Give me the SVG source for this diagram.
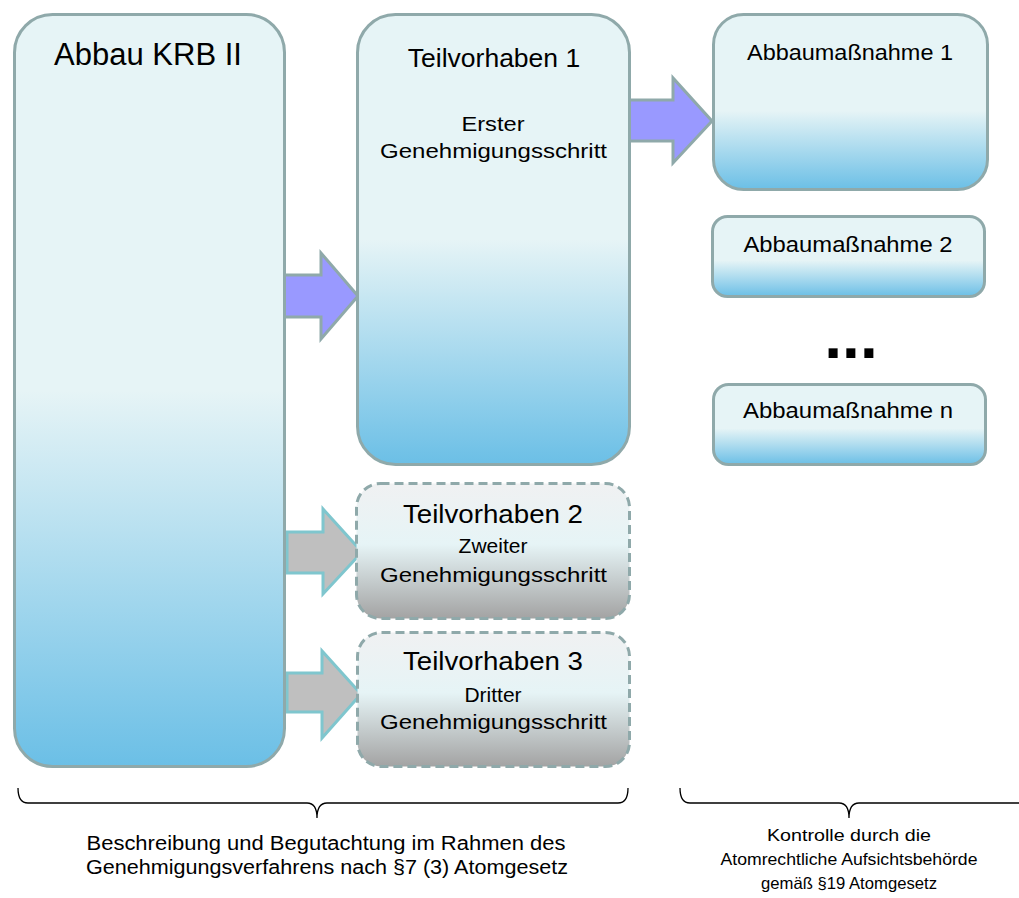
<svg xmlns="http://www.w3.org/2000/svg" width="1019" height="898" viewBox="0 0 1019 898">
<defs>
<linearGradient id="blue" x1="0" y1="0" x2="0" y2="1">
<stop offset="0" stop-color="#E6F4F6"/>
<stop offset="0.5" stop-color="#E6F4F6"/>
<stop offset="1" stop-color="#6BBFE6"/>
</linearGradient>
<linearGradient id="blueS" x1="0" y1="0" x2="0" y2="1">
<stop offset="0" stop-color="#E6F4F6"/>
<stop offset="0.55" stop-color="#E6F4F6"/>
<stop offset="1" stop-color="#6BBFE6"/>
</linearGradient>
<linearGradient id="gray" x1="0" y1="0" x2="0" y2="1">
<stop offset="0" stop-color="#F0F1F2"/>
<stop offset="0.45" stop-color="#E6F4F6"/>
<stop offset="1" stop-color="#A3A3A3"/>
</linearGradient>
<style>
.box{stroke:#8FA9AA;stroke-width:3}
.dash{stroke:#8FA9AA;stroke-width:3;stroke-dasharray:9 5}
.pa{fill:#9999FF;stroke:#8FA9AA;stroke-width:3;stroke-linejoin:miter}
.ga{fill:#BFBFBF;stroke:#7FC6CE;stroke-width:3;stroke-linejoin:miter}
text{font-family:"Liberation Sans",Arial,sans-serif;fill:#000;text-anchor:middle}
.br{fill:none;stroke:#000;stroke-width:1.3}
</style>
</defs>
<rect width="1019" height="898" fill="#fff"/>
<g id="connectors">
<polygon class="pa" points="284,275 321,275 321,253 358,296 321,339 321,317 284,317"/>
<polygon class="pa" points="628,100 673,100 673,78 712,121 673,163 673,141 628,141"/>
<polygon class="ga" points="287,532 323,532 323,509 362,552 323,594 323,573 287,573"/>
<polygon class="ga" points="287,673 322,673 322,651 361,694 322,738 322,712 287,712"/>
</g>
<g id="abbau">
<rect class="box" x="14.5" y="14.5" width="270" height="752" rx="38" fill="url(#blue)"/>
<text x="148" y="65" font-size="31">Abbau KRB II</text>
</g>
<g id="tv1">
<rect class="box" x="357.5" y="14.5" width="272" height="450" rx="38" fill="url(#blue)"/>
<text x="494" y="67" font-size="26.5">Teilvorhaben 1</text>
<text x="493" y="131" font-size="21" textLength="63" lengthAdjust="spacingAndGlyphs">Erster</text>
<text x="493.5" y="158" font-size="21" textLength="227" lengthAdjust="spacingAndGlyphs">Genehmigungsschritt</text>
</g>
<g id="tv2">
<rect class="dash" x="356.5" y="483.5" width="273" height="135" rx="24" fill="url(#gray)"/>
<text x="493" y="523" font-size="26.5" textLength="180" lengthAdjust="spacingAndGlyphs">Teilvorhaben 2</text>
<text x="493" y="553" font-size="21">Zweiter</text>
<text x="493.5" y="582" font-size="21" textLength="227" lengthAdjust="spacingAndGlyphs">Genehmigungsschritt</text>
</g>
<g id="tv3">
<rect class="dash" x="357.5" y="632.5" width="272" height="134" rx="24" fill="url(#gray)"/>
<text x="493" y="670" font-size="26.5" textLength="180" lengthAdjust="spacingAndGlyphs">Teilvorhaben 3</text>
<text x="493" y="702" font-size="21">Dritter</text>
<text x="493.5" y="729" font-size="21" textLength="227" lengthAdjust="spacingAndGlyphs">Genehmigungsschritt</text>
</g>
<g id="am1">
<rect class="box" x="713.5" y="14.5" width="274" height="175" rx="30" fill="url(#blueS)"/>
<text x="850" y="60" font-size="22.5" textLength="206" lengthAdjust="spacingAndGlyphs">Abbaumaßnahme 1</text>
</g>
<g id="am2">
<rect class="box" x="712.5" y="216.5" width="272" height="80" rx="15" fill="url(#blueS)"/>
<text x="848" y="252" font-size="22.5" textLength="209" lengthAdjust="spacingAndGlyphs">Abbaumaßnahme 2</text>
</g>
<g id="dots">
<text x="851" y="358" font-size="64" font-weight="bold">...</text>
</g>
<g id="amn">
<rect class="box" x="713.5" y="384.5" width="272" height="80" rx="15" fill="url(#blueS)"/>
<text x="848" y="418" font-size="22.5" textLength="210" lengthAdjust="spacingAndGlyphs">Abbaumaßnahme n</text>
</g>
<g id="brackets">
<path class="br" d="M18,788 Q18,803 28,803 H307 Q317,803 317,818 Q317,803 327,803 H618 Q628,803 628,788"/>
<path class="br" d="M680,788 Q680,803 690,803 H839 Q849,803 849,818 Q849,803 859,803 H1019"/>
</g>
<g id="labels">
<text x="326" y="850" font-size="20" textLength="479" lengthAdjust="spacingAndGlyphs">Beschreibung und Begutachtung im Rahmen des</text>
<text x="327" y="874" font-size="20" textLength="482" lengthAdjust="spacingAndGlyphs">Genehmigungsverfahrens nach §7 (3) Atomgesetz</text>
<text x="849" y="841" font-size="16.5" textLength="164" lengthAdjust="spacingAndGlyphs">Kontrolle durch die</text>
<text x="849" y="865" font-size="16.5" textLength="257" lengthAdjust="spacingAndGlyphs">Atomrechtliche Aufsichtsbehörde</text>
<text x="849" y="889" font-size="16.5" textLength="176" lengthAdjust="spacingAndGlyphs">gemäß §19 Atomgesetz</text>
</g>
</svg>
